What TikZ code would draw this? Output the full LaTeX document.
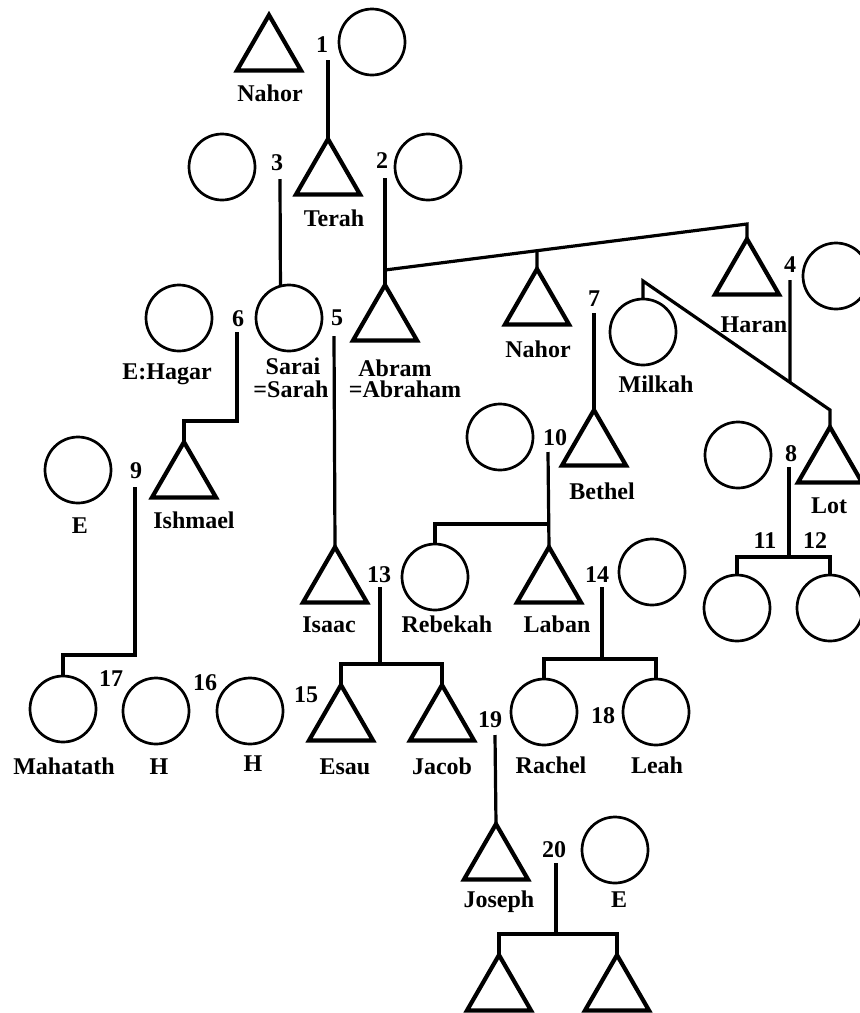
\documentclass[tikz,border=0pt]{standalone}
\usepackage{fontspec}
\setmainfont{Liberation Serif}
\usetikzlibrary{shapes.geometric,calc}
\tikzset{
  tri/.style={regular polygon, regular polygon sides=3, minimum size=74pt, inner sep=0pt, outer sep=0pt, draw, line width=4.2pt, anchor=corner 1},
  circ/.style={circle, minimum size=66pt, inner sep=0pt, outer sep=0pt, draw, line width=2.7pt},
  lbl/.style={inner sep=0pt, anchor=base, font=\bfseries\fontsize{24}{26}\selectfont},
  link/.style={line width=3.2pt}
}
\begin{document}
\begin{tikzpicture}[x=1pt,y=-1pt]
\useasboundingbox (0,0) rectangle (860,1013);
\clip (0,0) rectangle (860,1013);
% ---- triangles (placed by apex)
\node[tri] (nahorA) at (269,15) {};
\node[tri] (terah) at (328,139) {};
\node[tri] (abram) at (385,285) {};
\node[tri] (nahorB) at (537,269) {};
\node[tri] (haran) at (747,239) {};
\node[tri] (bethel) at (594,410) {};
\node[tri] (lot) at (830,427) {};
\node[tri] (ishmael) at (184,442) {};
\node[tri] (isaac) at (335,547) {};
\node[tri] (laban) at (549,547) {};
\node[tri] (esau) at (341,685) {};
\node[tri] (jacob) at (442,685) {};
\node[tri] (joseph) at (496,824) {};
\node[tri] (sonA) at (499,955) {};
\node[tri] (sonB) at (617,955) {};
% ---- circles
\node[circ] (w1) at (372,42) {};
\node[circ] (w3) at (222,167) {};
\node[circ] (w2) at (428,167) {};
\node[circ] (hagar) at (179,318) {};
\node[circ] (sarai) at (289,318) {};
\node[circ] (milkah) at (643,332) {};
\node[circ] (w4) at (836,276) {};
\node[circ] (w9) at (78,470) {};
\node[circ] (w10) at (500,437) {};
\node[circ] (w8) at (738,455) {};
\node[circ] (rebekah) at (435,577) {};
\node[circ] (w14) at (652,572) {};
\node[circ] (d11) at (737,608) {};
\node[circ] (d12) at (830,608) {};
\node[circ] (mahatath) at (63,709) {};
\node[circ] (h1) at (156,711) {};
\node[circ] (h2) at (250,711) {};
\node[circ] (rachel) at (544,712) {};
\node[circ] (leah) at (656,712) {};
\node[circ] (w20) at (615,850) {};
% ---- name labels
\node[lbl] (tNahorA) at (270,101) {Nahor};
\node[lbl] (tTerah) at (334,226) {Terah};
\node[lbl] (tAbram1) at (395,376) {Abram};
\node[lbl] (tAbram2) at (405,397) {=Abraham};
\node[lbl] (tNahorB) at (538,357) {Nahor};
\node[lbl] (tHaran) at (754,332) {Haran};
\node[lbl] (tMilkah) at (656,392) {Milkah};
\node[lbl] (tHagar) at (167,379) {E:Hagar};
\node[lbl] (tSarai1) at (293,374) {Sarai};
\node[lbl] (tSarai2) at (291,397) {=Sarah};
\node[lbl] (tE1) at (80,533) {E};
\node[lbl] (tIshmael) at (194,528) {Ishmael};
\node[lbl] (tBethel) at (602,499) {Bethel};
\node[lbl] (tLot) at (829,513) {Lot};
\node[lbl] (tIsaac) at (329,632) {Isaac};
\node[lbl] (tRebekah) at (447,632) {Rebekah};
\node[lbl] (tLaban) at (557,632) {Laban};
\node[lbl] (tMahatath) at (64,774) {Mahatath};
\node[lbl] (tH1) at (159,774) {H};
\node[lbl] (tH2) at (253,771) {H};
\node[lbl] (tEsau) at (345,774) {Esau};
\node[lbl] (tJacob) at (442,774) {Jacob};
\node[lbl] (tRachel) at (551,773) {Rachel};
\node[lbl] (tLeah) at (657,773) {Leah};
\node[lbl] (tJoseph) at (499,907) {Joseph};
\node[lbl] (tE2) at (619,907) {E};
% ---- marriage numbers
\node[lbl] (n1) at (322,52) {1};
\node[lbl] (n2) at (382,168) {2};
\node[lbl] (n3) at (277,170) {3};
\node[lbl] (n4) at (790,272) {4};
\node[lbl] (n5) at (337,325) {5};
\node[lbl] (n6) at (238,326) {6};
\node[lbl] (n7) at (594,306) {7};
\node[lbl] (n8) at (791,461) {8};
\node[lbl] (n9) at (136,478) {9};
\node[lbl] (n10) at (555,445) {10};
\node[lbl] (n11) at (765,548) {11};
\node[lbl] (n12) at (815,548) {12};
\node[lbl] (n13) at (379,582) {13};
\node[lbl] (n14) at (597,582) {14};
\node[lbl] (n15) at (306,702) {15};
\node[lbl] (n16) at (205,690) {16};
\node[lbl] (n17) at (111,686) {17};
\node[lbl] (n18) at (603,723) {18};
\node[lbl] (n19) at (490,727) {19};
\node[lbl] (n20) at (554,857) {20};
% ---- free ends of the descent lines (just under the numbers)
\coordinate (s1) at (328,60);
\coordinate (s2) at (385,178);
\coordinate (s3) at (280,179);
\coordinate (s4) at (790,280);
\coordinate (s5) at (334,336);
\coordinate (s6) at (237,332);
\coordinate (s7) at (594,313);
\coordinate (s8) at (789,467);
\coordinate (s9) at (135,487);
\coordinate (s10) at (548,452);
\coordinate (s13) at (380,587);
\coordinate (s14) at (602,587);
\coordinate (s19) at (495,735);
\coordinate (s20) at (556,863);
% junctions
\coordinate (jAbr) at (385,270);
\coordinate (jHar) at (747,224);
\coordinate (jNah) at ($(jAbr)!{(537-385)/(747-385)}!(jHar)$);
\coordinate (jMil) at (643,281);
\coordinate (jLot) at (830,410);
\coordinate (j4) at ($(jMil)!{(790-643)/(830-643)}!(jLot)$);
% ---- connectors
\draw[link] (s1) -- (terah.corner 1);
\draw[link] (s2) -- (abram.corner 1);
\draw[link] (jAbr) -- (jHar) -- (haran.corner 1);
\draw[link] (jNah) -- (nahorB.corner 1);
\draw[link] (s3) -- (sarai.105);
\draw[link] (milkah.north) -- (jMil) -- (jLot) -- (lot.corner 1);
\draw[link] (s4) -- (j4);
\draw[link] (s5) -- (isaac.corner 1);
\draw[link] (s6) |- (ishmael.corner 1 |- 0,421) -- (ishmael.corner 1);
\draw[link] (s7) -- (bethel.corner 1);
\draw[link] (s8) -- (789,557);
\draw[link] (d11.north) |- (d12.north |- 0,557) -- (d12.north);
\draw[link] (s9) |- (mahatath.north |- 0,655) -- (mahatath.north);
\draw[link] (s10) -- (laban.corner 1);
\draw[link] (rebekah.north) |- (laban.corner 1 |- 0,524);
\draw[link] (s13) -- (380,664);
\draw[link] (esau.corner 1) |- (jacob.corner 1 |- 0,664) -- (jacob.corner 1);
\draw[link] (s14) -- (602,659);
\draw[link] (rachel.north) |- (leah.north |- 0,659) -- (leah.north);
\draw[link] (s19) -- (joseph.corner 1);
\draw[link] (s20) -- (556,934);
\draw[link] (sonA.corner 1) |- (sonB.corner 1 |- 0,934) -- (sonB.corner 1);
\end{tikzpicture}
\end{document}
